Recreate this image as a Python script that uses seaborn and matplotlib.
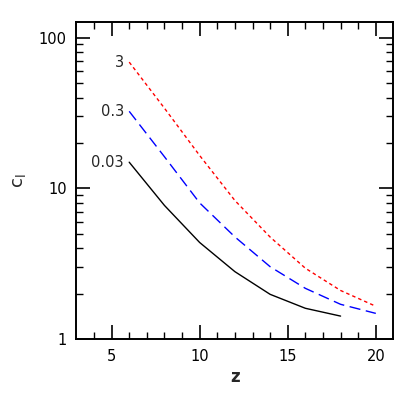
import matplotlib
matplotlib.use("Agg")
import matplotlib.pyplot as plt
import seaborn as sns
import pandas as pd
import numpy as np
from matplotlib.ticker import FixedLocator, NullFormatter

z = [6, 8, 10, 12, 14, 16, 18, 20]
c_3 = [68.7, 34.0, 16.5, 8.3, 4.75, 2.95, 2.1, 1.65]
c_03 = [32.4, 16.2, 8.0, 4.76, 3.02, 2.17, 1.7, 1.48]
z_003 = [6, 8, 10, 12, 14, 16, 18]
c_003 = [14.9, 7.7, 4.37, 2.8, 1.98, 1.6, 1.42]
series_labels = ["3", "0.3", "0.03"]

df = pd.concat([
    pd.DataFrame({"z": z, "c": c_3, "s": "3"}),
    pd.DataFrame({"z": z, "c": c_03, "s": "0.3"}),
    pd.DataFrame({"z": z_003, "c": c_003, "s": "0.03"}),
], ignore_index=True)

sns.set_style("ticks")
plt.rcParams['font.family'] = ['DejaVu Sans']

fig = plt.figure(figsize=(4.15, 4.15), dpi=100)
ax = fig.add_axes([0.184, 0.183, 0.764, 0.763])

palette = {"3": "#ff0000", "0.3": "#0000ff", "0.03": "#000000"}
dashes = {"3": (2.5, 2.2), "0.3": (8, 4), "0.03": ""}
sns.lineplot(data=df, x="z", y="c", hue="s", style="s", palette=palette,
             dashes=dashes, linewidth=1.0, ax=ax, legend=False, sort=False)

ax.set_yscale("log")
ax.set_xlim(3, 21)
ax.set_ylim(1, 126)

ax.xaxis.set_major_locator(FixedLocator([5, 10, 15, 20]))
ax.xaxis.set_minor_locator(FixedLocator(list(range(4, 21))))
ax.yaxis.set_major_locator(FixedLocator([1, 10, 100]))
ax.yaxis.set_minor_locator(FixedLocator([m * d for d in (1, 10) for m in range(2, 10)]))
ax.set_yticklabels(["1", "10", "100"])
ax.yaxis.set_minor_formatter(NullFormatter())
ax.set_xticklabels(["5", "10", "15", "20"])

ax.tick_params(which="both", direction="in", top=True, right=True, colors="black", labelsize=10.5)
ax.tick_params(which="major", length=10, width=1.2, pad=7)
ax.tick_params(which="minor", length=5, width=1.0)
for sp in ax.spines.values():
    sp.set_linewidth(1.4)
    sp.set_color("black")

ax.set_xlabel("z", fontsize=12, fontweight="bold", labelpad=3)
ax.set_ylabel("c$_\\mathregular{l}$", fontsize=13, labelpad=8)

ax.text(5.7, 68.7, "3", ha="right", va="center", fontsize=10.5)
ax.text(5.7, 32.4, "0.3", ha="right", va="center", fontsize=10.5)
ax.text(5.7, 14.9, "0.03", ha="right", va="center", fontsize=10.5)

fig.savefig("out.png", dpi=100)
